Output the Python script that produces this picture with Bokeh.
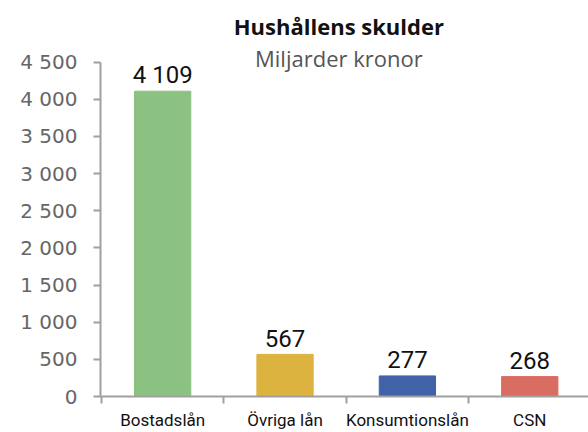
from bokeh.plotting import figure
from bokeh.models import Range1d, FixedTicker, CustomJSTickFormatter, Label, ColumnDataSource
from bokeh.core.properties import value
from bokeh.embed import file_html
from bokeh.resources import INLINE

categories = ["Bostadslån", "Övriga lån", "Konsumtionslån", "CSN"]
values = [4109, 567, 277, 268]
labels = ["4 109", "567", "277", "268"]
colors = ["#8BC282", "#DDB340", "#4262A8", "#DA6D62"]
y_ticks = [0, 500, 1000, 1500, 2000, 2500, 3000, 3500, 4000, 4500]

xs = [i + 0.5 for i in range(len(categories))]
src = ColumnDataSource(dict(x=xs, top=values, color=colors, label=labels))

p = figure(width=588, height=432, output_backend="svg", toolbar_location=None,
           x_range=Range1d(-0.008, 3.98), y_range=Range1d(0, 5330),
           min_border_left=100, min_border_right=0, min_border_top=0, min_border_bottom=34)
p.outline_line_color = None
p.grid.grid_line_color = None
p.background_fill_color = "white"

p.vbar(x="x", top="top", width=0.46, color="color", source=src)
p.text(x="x", y="top", text="label", source=src, y_offset=-16,
       text_align="center", text_baseline="alphabetic",
       text_font=value("Roboto"), text_font_size="24px", text_color="#111111")

# y axis
ya = p.yaxis[0]
ya.ticker = FixedTicker(ticks=y_ticks)
ya.bounds = (0, 4500)
ya.formatter = CustomJSTickFormatter(code="return tick.toString().replace(/\\B(?=(\\d{3})+(?!\\d))/g, ' ');")
ya.major_tick_in = 0
ya.major_tick_out = 7
ya.minor_tick_line_color = None
ya.axis_line_color = "#A0A0A0"
ya.axis_line_width = 2
ya.major_tick_line_color = "#A0A0A0"
ya.major_tick_line_width = 2
ya.major_label_text_font = "DejaVu Sans"
ya.major_label_text_font_size = "20px"
ya.major_label_text_color = "#666666"
ya.major_label_standoff = 16

# x axis
xa = p.xaxis[0]
xa.ticker = FixedTicker(ticks=xs, minor_ticks=[0, 1, 2, 3, 4])
xa.major_label_overrides = {x: c for x, c in zip(xs, categories)}
xa.major_tick_line_color = None
xa.major_tick_in = 0
xa.major_tick_out = 0
xa.minor_tick_in = 0
xa.minor_tick_out = 7
xa.minor_tick_line_color = "#A0A0A0"
xa.minor_tick_line_width = 2
xa.axis_line_color = "#A0A0A0"
xa.axis_line_width = 2
xa.major_label_text_font = "Roboto"
xa.major_label_text_font_size = "17px"
xa.major_label_text_color = "#111111"
xa.major_label_standoff = 6

p.add_layout(Label(x=1.94, y=4990, text="Hushållens skulder", text_align="center",
                   text_baseline="alphabetic", text_font="Open Sans", text_font_style="bold",
                   text_font_size="22px", text_color="#111111"))
p.add_layout(Label(x=1.94, y=4550, text="Miljarder kronor", text_align="center",
                   text_baseline="alphabetic", text_font="Open Sans",
                   text_font_size="22px", text_color="#555555"))

open("out.html", "w").write(file_html(p, INLINE))
